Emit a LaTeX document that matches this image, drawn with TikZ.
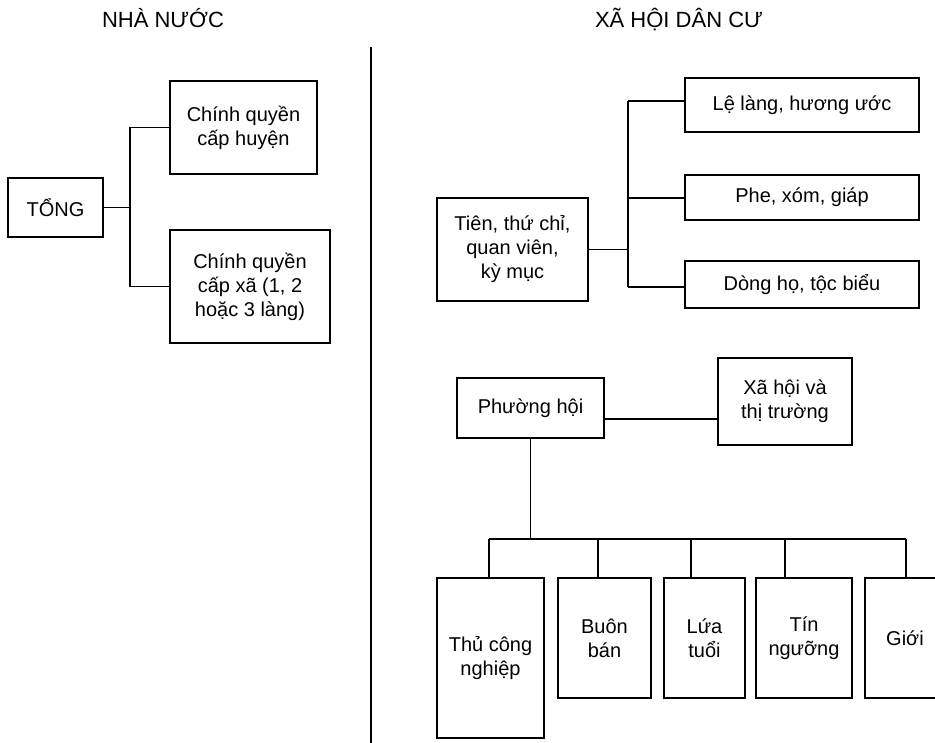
\documentclass[tikz,border=0pt]{standalone}
\usepackage{fontspec}
\setmainfont{Liberation Sans}
\begin{document}
\begin{tikzpicture}[x=1pt,y=-1pt,
  line width=1.2pt,
  box/.style={draw, rectangle, inner sep=0pt, align=center,
    font=\fontsize{20}{24}\selectfont},
  heading/.style={anchor=base, inner sep=0pt, font=\fontsize{22}{26}\selectfont}]
\useasboundingbox (0,0) rectangle (935,743);
\clip (0,0) rectangle (935,743);
% headings
\node[heading] (h1) at (163,28) {NHÀ NƯỚC};
\node[heading] (h2) at (679,28) {XÃ HỘI DÂN CƯ};
% divider
\coordinate (dt) at (371,47);
\coordinate (db) at (371,745);
\draw (dt) -- (db);
% left
\node[box, minimum width=95pt, minimum height=59pt] (tong) at (55.5,207.5) {TỔNG};
\node[box, minimum width=147pt, minimum height=93pt] (huyen) at (243.5,127.5) {Chính quyền\\cấp huyện};
\node[box, minimum width=160pt, minimum height=113pt] (xa) at (250,286.5) {Chính quyền\\cấp xã (1, 2\\hoặc 3 làng)};
\coordinate (lj) at (130,207.5);
\draw (huyen.west) -| (lj) |- (xa.west);
\draw (tong.east) -- (lj);
% right top
\node[box, minimum width=151pt, minimum height=103pt] (tien) at (512.5,249.5) {Tiên, thứ chỉ,\\quan viên,\\kỳ mục};
\node[box, minimum width=234pt, minimum height=54pt] (le) at (802,105) {Lệ làng, hương ước};
\node[box, minimum width=234pt, minimum height=45pt] (phe) at (802,197.5) {Phe, xóm, giáp};
\node[box, minimum width=234pt, minimum height=47pt] (dong) at (802,284.5) {Dòng họ, tộc biểu};
\coordinate (rt) at (628,101);
\coordinate (rm) at (628,198);
\coordinate (rb) at (628,287);
\draw (rt) -- (rb);
\draw (rt) -- (rt -| le.west);
\draw (rm) -- (rm -| phe.west);
\draw (rb) -- (rb -| dong.west);
\draw (tien.east) -- (tien.east -| rt);
% bottom
\node[box, minimum width=147pt, minimum height=60pt] (phuong) at (530.5,408) {Phường hội};
\node[box, minimum width=134pt, minimum height=87pt] (xhtt) at (785,401.5) {Xã hội và\\thị trường};
\coordinate (pl) at (604,419);
\draw (pl) -- (pl -| xhtt.west);
\coordinate (bus) at (531,539);
\draw (phuong.south) -- (phuong.south |- bus);
\node[box, minimum width=107pt, minimum height=160pt] (thu) at (490.5,658) {Thủ công\\nghiệp};
\node[box, minimum width=93pt, minimum height=120pt] (buon) at (604.5,638) {Buôn\\bán};
\node[box, minimum width=81pt, minimum height=120pt] (lua) at (704.5,638) {Lứa\\tuổi};
\node[box, minimum width=96pt, minimum height=120pt] (tin) at (804,638) {Tín\\ngưỡng};
\node[box, minimum width=80pt, minimum height=120pt] (gioi) at (905,638) {Giới};
\coordinate (b1) at (489,539);
\coordinate (b2) at (598,539);
\coordinate (b3) at (691,539);
\coordinate (b4) at (785,539);
\coordinate (b5) at (906,539);
\draw (b1) -- (b5);
\draw (b1) -- (b1 |- thu.north);
\draw (b2) -- (b2 |- buon.north);
\draw (b3) -- (b3 |- lua.north);
\draw (b4) -- (b4 |- tin.north);
\draw (b5) -- (b5 |- gioi.north);
\end{tikzpicture}
\end{document}
